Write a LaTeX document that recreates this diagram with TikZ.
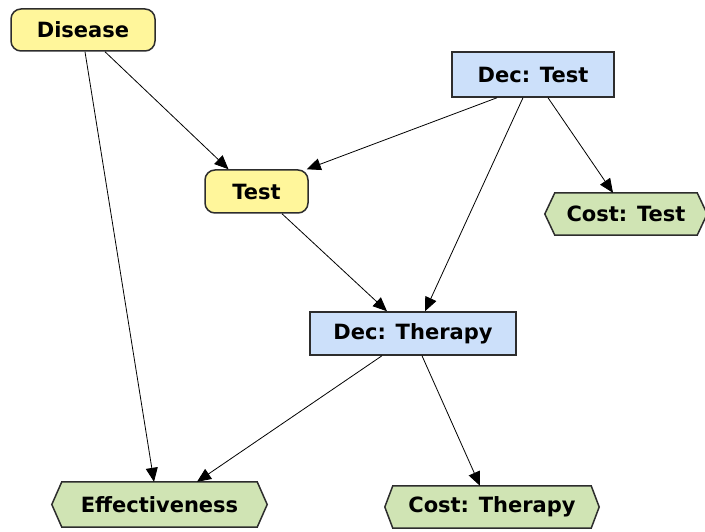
\documentclass[tikz,border=0pt]{standalone}
\usepackage{fontspec}
\setmainfont{DejaVu Sans}
\usetikzlibrary{arrows.meta,backgrounds}
\definecolor{nodeyellow}{RGB}{255,246,155}
\definecolor{nodeblue}{RGB}{204,224,250}
\definecolor{nodegreen}{RGB}{208,228,180}
\definecolor{nodeborder}{RGB}{45,45,45}
\tikzset{
  base/.style={font=\fontsize{21}{24}\selectfont\bfseries, inner sep=0pt, text=black},
  chance/.style={base, draw=nodeborder, line width=1.5pt, fill=nodeyellow, rounded corners=10pt},
  decision/.style={base, draw=nodeborder, line width=1.5pt, fill=nodeblue},
  utility/.style={base},
  hexshape/.style={draw=nodeborder, line width=1.5pt, fill=nodegreen, line join=miter},
  link/.style={line width=0.8pt, draw=black, -{Triangle[length=14pt,width=12pt]}}
}
\newcommand{\hexbg}[2][10pt]{%
  \begin{scope}[on background layer]
  \path[hexshape] ([xshift=#1]#2.north west) -- ([xshift=-#1]#2.north east) -- (#2.east)
     -- ([xshift=-#1]#2.south east) -- ([xshift=#1]#2.south west) -- (#2.west) -- cycle;
  \end{scope}}
\begin{document}
\begin{tikzpicture}[x=1pt,y=-1pt]
\useasboundingbox (0,0) rectangle (705,532);
\node[chance, minimum width=144pt, minimum height=42pt] (disease) at (83,30) {Disease};
\node[decision, minimum width=162pt, minimum height=45pt] (dectest) at (533,74.5) {Dec: Test};
\node[chance, minimum width=103pt, minimum height=43pt] (test) at (256.5,191.5) {Test};
\node[utility, minimum width=162pt, minimum height=42pt] (costtest) at (626,214) {Cost: Test};
\node[decision, minimum width=206pt, minimum height=43pt] (dectherapy) at (413,333.5) {Dec: Therapy};
\node[utility, minimum width=215pt, minimum height=45pt] (eff) at (159.5,504.5) {Effectiveness};
\node[utility, minimum width=214pt, minimum height=42pt] (costtherapy) at (492,507) {Cost: Therapy};
\hexbg{costtest}
\hexbg{eff}
\hexbg[8pt]{costtherapy}
\draw[link] ([xshift=22pt]disease.south) -- ([xshift=-28pt]test.north);
\draw[link] ([xshift=2pt]disease.south) -- ([xshift=-5.5pt]eff.north);
\draw[link] ([xshift=-36pt]dectest.south) -- ([xshift=-2pt]test.north east);
\draw[link] ([xshift=-10pt]dectest.south) -- ([xshift=12pt]dectherapy.north);
\draw[link] ([xshift=15pt]dectest.south) -- ([xshift=-13pt]costtest.north);
\draw[link] ([xshift=25.5pt]test.south) -- ([xshift=-26pt]dectherapy.north);
\draw[link] ([xshift=-31pt]dectherapy.south) -- ([xshift=37.5pt]eff.north);
\draw[link] ([xshift=9pt]dectherapy.south) -- ([xshift=-12pt]costtherapy.north);
\end{tikzpicture}
\end{document}
